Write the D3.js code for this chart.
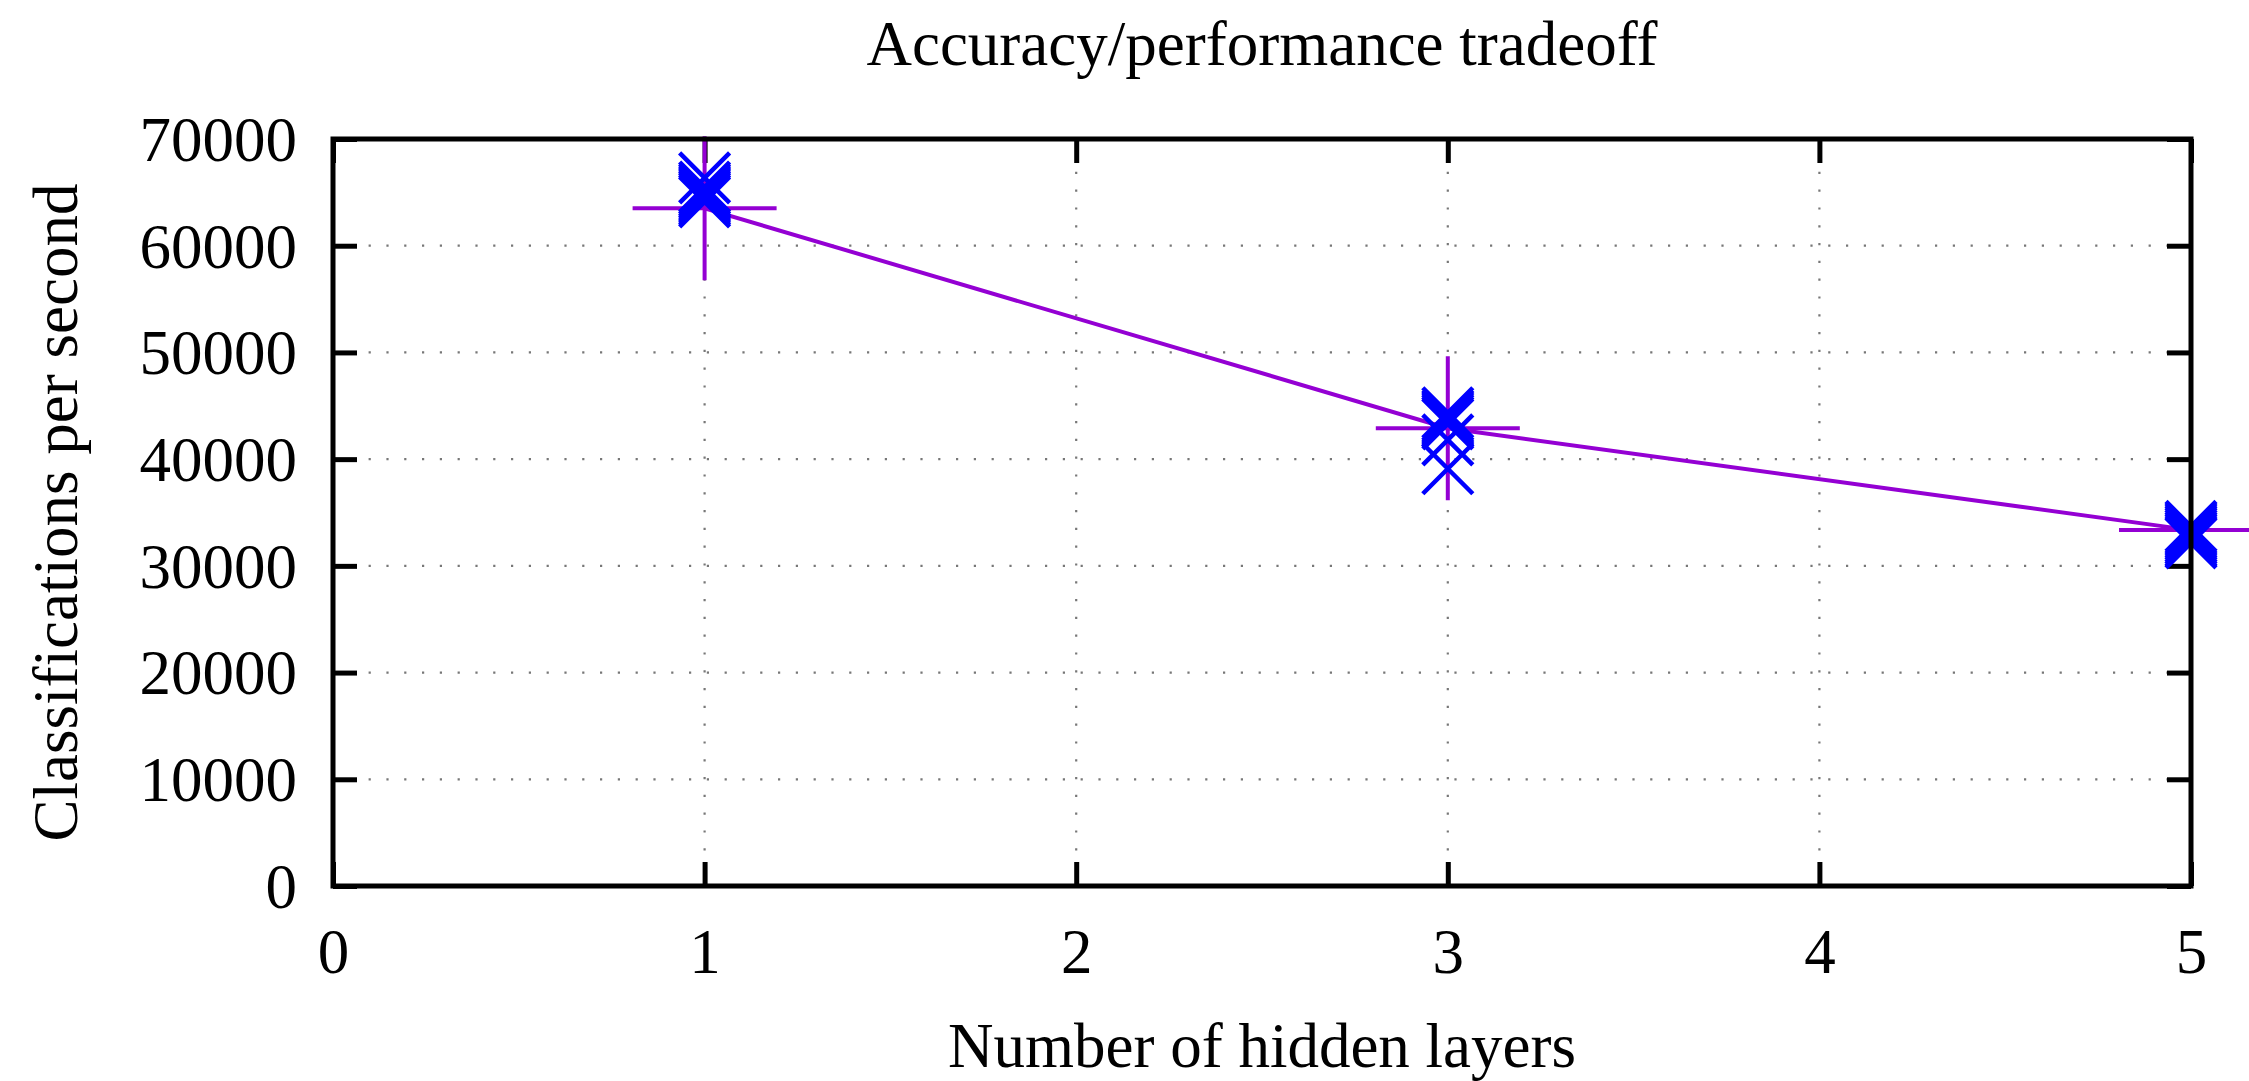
<!DOCTYPE html>
<html>
<head>
<meta charset="utf-8">
<script src="https://cdn.jsdelivr.net/npm/d3@7"></script>
<style>
  body { margin: 0; background: #fff; }
  svg text { font-family: "Liberation Serif", "Times New Roman", serif; fill: #000; }
</style>
</head>
<body>
<div id="chart"></div>
<script>
// data
let layers = [1, 3, 5];
let meanRate = [63500, 42900, 33350];           // purple line with big "+" markers
let runs1 = [66350, 65500, 65300, 65100, 64900, 64700, 64500, 64300, 64100];
let runs3 = [44350, 44100, 43900, 43700, 43500, 43300, 41800, 39100];
let runs5 = [33700, 33500, 33300, 33100, 32900, 32700, 32500, 32300, 32150];
let yTicks = [0, 10000, 20000, 30000, 40000, 50000, 60000, 70000];
let xTicks = [0, 1, 2, 3, 4, 5];

// set the dimensions of the graph
let W = 2249, H = 1081;
let plot = { left: 333, right: 2191, top: 139, bottom: 886 };
let fontSize = 63;

let svg = d3.select("#chart")
    .append("svg")
    .attr("width", W)
    .attr("height", H);

let x = d3.scaleLinear()
    .domain([0, 5])
    .range([plot.left, plot.right]);

let y = d3.scaleLinear()
    .domain([0, 70000])
    .range([plot.bottom, plot.top]);

// dotted grid
let grid = svg.append("g")
    .attr("stroke", "#777")
    .attr("stroke-width", 2.2)
    .attr("stroke-dasharray", "2.2,15.6");

grid.selectAll(".gy")
    .data(yTicks.slice(1, -1))
    .enter()
    .append("line")
    .attr("x1", plot.left)
    .attr("x2", plot.right)
    .attr("y1", d => y(d))
    .attr("y2", d => y(d));

grid.selectAll(".gx")
    .data(xTicks.slice(1, -1))
    .enter()
    .append("line")
    .attr("y1", plot.bottom)
    .attr("y2", plot.top)
    .attr("x1", d => x(d))
    .attr("x2", d => x(d));

// axes, ticks pointing inwards
let tickLen = 24;
let fmt = d3.format("d");

let yAxis = svg.append("g")
    .attr("transform", `translate(${plot.left},0)`)
    .call(d3.axisLeft(y).tickValues(yTicks).tickFormat(fmt)
        .tickSizeInner(-tickLen).tickSizeOuter(0).tickPadding(36));

let yAxisR = svg.append("g")
    .attr("transform", `translate(${plot.right},0)`)
    .call(d3.axisRight(y).tickValues(yTicks).tickSizeInner(-tickLen).tickSizeOuter(0).tickFormat(""));

let xAxis = svg.append("g")
    .attr("transform", `translate(0,${plot.bottom})`)
    .call(d3.axisBottom(x).tickValues(xTicks).tickFormat(fmt)
        .tickSizeInner(-tickLen).tickSizeOuter(0).tickPadding(42));

let xAxisT = svg.append("g")
    .attr("transform", `translate(0,${plot.top})`)
    .call(d3.axisTop(x).tickValues(xTicks).tickSizeInner(-tickLen).tickSizeOuter(0).tickFormat(""));

[yAxis, yAxisR, xAxis, xAxisT].forEach(function (a) {
    a.select(".domain").remove();
    a.selectAll("line").attr("stroke", "#000").attr("stroke-width", 5);
    a.selectAll("text")
        .style("font-family", '"Liberation Serif", serif')
        .style("font-size", fontSize + "px")
        .attr("fill", "#000");
});
yAxis.selectAll("text").attr("dy", "0.34em");

// purple line + big plus markers
let purple = "#9400d3";
let meanData = layers.map((l, i) => [l, meanRate[i]]);

svg.append("path")
    .datum(meanData)
    .attr("fill", "none")
    .attr("stroke", purple)
    .attr("stroke-width", 4)
    .attr("d", d3.line()
        .x(d => x(d[0]))
        .y(d => y(d[1])));

let plusSize = 72;
svg.selectAll(".plus")
    .data(meanData)
    .enter()
    .append("path")
    .attr("class", "plus")
    .attr("transform", d => `translate(${x(d[0])},${y(d[1])})`)
    .attr("d", `M${-plusSize},0H${plusSize}M0,${-plusSize}V${plusSize}`)
    .attr("fill", "none")
    .attr("stroke", purple)
    .attr("stroke-width", 4);

// blue x markers, one per run
let runs = [];
runs1.forEach(v => runs.push([1, v]));
runs3.forEach(v => runs.push([3, v]));
runs5.forEach(v => runs.push([5, v]));

let xs = 25;
svg.selectAll(".cross")
    .data(runs)
    .enter()
    .append("path")
    .attr("class", "cross")
    .attr("transform", d => `translate(${x(d[0])},${y(d[1])})`)
    .attr("d", `M${-xs},${-xs}L${xs},${xs}M${-xs},${xs}L${xs},${-xs}`)
    .attr("fill", "none")
    .attr("stroke", "#0000ff")
    .attr("stroke-width", 4.5);

// border in front
svg.append("rect")
    .attr("x", plot.left)
    .attr("y", plot.top)
    .attr("width", plot.right - plot.left)
    .attr("height", plot.bottom - plot.top)
    .attr("fill", "none")
    .attr("stroke", "#000")
    .attr("stroke-width", 5);

// labels
svg.append("text")
    .attr("x", (plot.left + plot.right) / 2)
    .attr("y", 65)
    .attr("text-anchor", "middle")
    .style("font-size", fontSize + "px")
    .text("Accuracy/performance tradeoff");

svg.append("text")
    .attr("x", (plot.left + plot.right) / 2)
    .attr("y", 1067)
    .attr("text-anchor", "middle")
    .style("font-size", fontSize + "px")
    .text("Number of hidden layers");

svg.append("text")
    .attr("transform", `translate(77,${(plot.top + plot.bottom) / 2}) rotate(-90)`)
    .attr("text-anchor", "middle")
    .style("font-size", fontSize + "px")
    .text("Classifications per second");
</script>
</body>
</html>
